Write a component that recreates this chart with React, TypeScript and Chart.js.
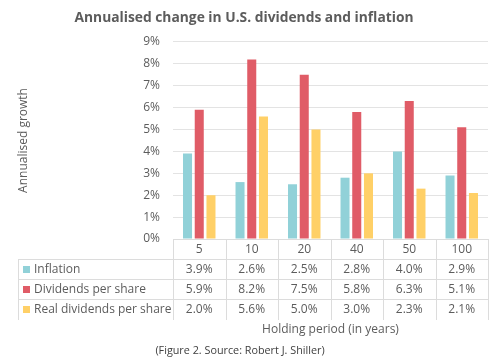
import React, { useEffect, useRef } from "react";
import { Chart, registerables } from "chart.js";

Chart.register(...registerables);

const categories = ["5", "10", "20", "40", "50", "100"];
const inflation = [3.9, 2.6, 2.5, 2.8, 4.0, 2.9];
const dividends = [5.9, 8.2, 7.5, 5.8, 6.3, 5.1];
const realDividends = [2.0, 5.6, 5.0, 3.0, 2.3, 2.1];
const seriesNames = ["Inflation", "Dividends per share", "Real dividends per share"];
const seriesColors = ["#91d1d8", "#e05c67", "#ffd067"];

const titleText = "Annualised change in U.S. dividends and inflation";
const yTitle = "Annualised growth";
const xTitle = "Holding period (in years)";
const footer = "(Figure 2. Source: Robert J. Shiller)";

const FONT = "'Open Sans', 'DejaVu Sans', sans-serif";
const TEXT = "#5c5c5c";

const tablePlugin = {
  id: "dataTable",
  afterDraw(chart: any) {
    const { ctx, chartArea, scales } = chart;
    const xs = scales.x;
    const n = categories.length;
    const colW = (chartArea.right - chartArea.left) / n;
    const top = Math.round(chartArea.bottom);
    const rowH = 20;
    const tableLeft = 18;
    const right = Math.round(chartArea.right);
    const plotLeft = Math.round(chartArea.left);
    const data = [inflation, dividends, realDividends];
    ctx.save();
    ctx.strokeStyle = "#dcdcdc";
    ctx.lineWidth = 1;
    const hline = (x1: number, x2: number, y: number) => {
      ctx.beginPath();
      ctx.moveTo(x1, y + 0.5);
      ctx.lineTo(x2, y + 0.5);
      ctx.stroke();
    };
    const vline = (x: number, y1: number, y2: number) => {
      ctx.beginPath();
      ctx.moveTo(x + 0.5, y1);
      ctx.lineTo(x + 0.5, y2);
      ctx.stroke();
    };
    hline(plotLeft, right + 1, top);
    for (let r = 1; r <= 3; r++) hline(tableLeft, right + 1, top + r * rowH);
    vline(tableLeft, top + rowH, top + 4 * rowH + 1);
    for (let i = 0; i <= n; i++) {
      const bx = Math.round(xs.getPixelForValue(Math.min(i, n - 1)) + (i === n ? colW / 2 : -colW / 2));
      vline(bx, top, top + 4 * rowH + 1);
    }
    ctx.fillStyle = TEXT;
    ctx.font = `12px ${FONT}`;
    ctx.textBaseline = "middle";
    ctx.textAlign = "center";
    categories.forEach((c, i) => {
      ctx.fillText(c, xs.getPixelForValue(i), top + rowH / 2 + 0.5);
    });
    data.forEach((arr, r) => {
      const cy = top + (r + 1) * rowH + rowH / 2 + 0.5;
      ctx.textAlign = "center";
      arr.forEach((v, i) => {
        ctx.fillText(v.toFixed(1) + "%", xs.getPixelForValue(i), cy);
      });
      ctx.fillStyle = seriesColors[r];
      ctx.fillRect(23, Math.round(cy - 3.5), 7, 7);
      ctx.fillStyle = TEXT;
      ctx.textAlign = "left";
      ctx.fillText(seriesNames[r], 34, cy);
    });
    ctx.textAlign = "center";
    ctx.font = `12px ${FONT}`;
    ctx.fillText(xTitle, (chartArea.left + chartArea.right) / 2, top + 4 * rowH + 10.5);
    ctx.font = `10.8px ${FONT}`;
    ctx.fillStyle = "#404040";
    ctx.fillText(footer, 240, 351);
    ctx.restore();
  },
};

export default function App() {
  const ref = useRef<HTMLCanvasElement>(null);
  useEffect(() => {
    if (!ref.current) return;
    const chart = new Chart(ref.current, {
      type: "bar",
      data: {
        labels: categories,
        datasets: [
          { label: seriesNames[0], data: inflation, backgroundColor: seriesColors[0] },
          { label: seriesNames[1], data: dividends, backgroundColor: seriesColors[1] },
          { label: seriesNames[2], data: realDividends, backgroundColor: seriesColors[2] },
        ],
      },
      options: {
        responsive: false,
        animation: false,
        layout: { padding: { left: 0, right: 12, top: 0, bottom: 125 } },
        datasets: { bar: { categoryPercentage: 0.67, barPercentage: 0.77 } },
        plugins: {
          legend: { display: false },
          tooltip: { enabled: false },
          title: {
            display: true,
            text: titleText,
            color: TEXT,
            font: { family: FONT, size: 13.8, weight: "bold", lineHeight: 1.2 },
            padding: { top: 10, bottom: 15.4 },
          },
        },
        scales: {
          x: { display: false },
          y: {
            min: 0,
            max: 9,
            border: { display: false },
            grid: { color: "#e3e3e3", drawTicks: false },
            ticks: {
              stepSize: 1,
              padding: 13,
              color: TEXT,
              font: { family: FONT, size: 12 },
              callback: (v: any) => v + "%",
            },
            title: {
              display: true,
              text: yTitle,
              color: TEXT,
              font: { family: FONT, size: 12 },
              padding: { top: 16 },
            },
            afterFit: (s: any) => {
              s.width = 173;
            },
          },
        },
      },
      plugins: [tablePlugin],
    });
    return () => chart.destroy();
  }, []);
  return (
    <div style={{ position: "fixed", left: 0, top: 0, width: 500, height: 364, background: "#fff" }}>
      <canvas ref={ref} width={500} height={364} style={{ display: "block" }} />
    </div>
  );
}
